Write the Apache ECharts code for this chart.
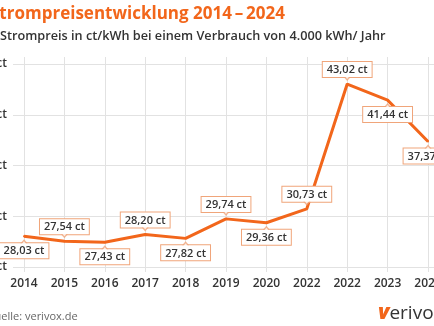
<!DOCTYPE html>
<html>
<head>
<meta charset="utf-8">
<script src="https://cdn.jsdelivr.net/npm/echarts@6/dist/echarts.min.js"></script>
<style>html,body{margin:0;padding:0;background:#fff;}#c{width:434px;height:326px;}</style>
</head>
<body>
<div id="c"></div>
<script>
const titleText = 'Strompreisentwicklung 2014\u2009\u2013\u20092024';
const subtitleText = 'Strompreis in ct/kWh bei einem Verbrauch von 4.000 kWh/ Jahr';
const sourceText = 'Quelle: verivox.de';
const yearLabels = ['2014','2015','2016','2017','2018','2019','2020','2022','2022','2023','2024'];
const prices = [28.03, 27.54, 27.43, 28.20, 27.82, 29.74, 29.36, 30.73, 43.02, 41.44, 37.37];
const yTicks = [25, 30, 35, 40, 45];
const labelSide = ['bottom','top','bottom','top','bottom','top','bottom','top','top','bottom','bottom'];

const ORANGE = '#f2661b';
const BORDER = '#f0a57a';
const FONT = 'Open Sans';
const fmt = v => v.toFixed(2).replace('.', ',') + ' ct';

const lineData = prices.map((v, i) => ({
  value: v,
  label: { position: labelSide[i] }
}));
const triOuter = prices.map((v, i) => ({
  value: v,
  symbolRotate: labelSide[i] === 'top' ? 180 : 0,
  symbolOffset: [0, labelSide[i] === 'top' ? -5 : 5]
}));
const triInner = prices.map((v, i) => ({
  value: v,
  symbolRotate: labelSide[i] === 'top' ? 180 : 0,
  symbolOffset: [0, labelSide[i] === 'top' ? -6.5 : 6.5]
}));

const chart = echarts.init(document.getElementById('c'), null, {renderer: 'canvas'});
chart.setOption({
  backgroundColor: '#fff',
  animation: false,
  textStyle: { fontFamily: FONT },
  grid: [
    { left: 13, right: 0, top: 64, bottom: 59, containLabel: false, outerBoundsMode: 'none' },
    { left: 24, right: 6, top: 57, bottom: 59, containLabel: false, outerBoundsMode: 'none' }
  ],
  xAxis: [
    { gridIndex: 0, type: 'category', data: yearLabels, show: false },
    {
      gridIndex: 1, type: 'category', data: yearLabels, boundaryGap: false,
      axisLine: { show: false },
      axisTick: { show: true, alignWithLabel: true, length: 5, lineStyle: { color: '#e2e2e2' } },
      axisLabel: { margin: 11, fontSize: 12, fontWeight: 600, color: '#333', fontFamily: FONT },
      splitLine: { show: true, lineStyle: { color: '#e2e2e2', width: 1 } }
    }
  ],
  yAxis: [
    {
      gridIndex: 0, type: 'value', min: yTicks[0], max: yTicks[yTicks.length - 1], interval: 5,
      axisLine: { show: false }, axisTick: { show: false },
      axisLabel: { margin: 6, fontSize: 12, fontWeight: 600, color: '#333', fontFamily: FONT,
        formatter: v => v + ' ct' },
      splitLine: { lineStyle: { color: '#e2e2e2', width: 1 } }
    },
    {
      gridIndex: 1, type: 'value', min: 25, max: 45 + 7 / 51 * 5, show: false,
      splitLine: { show: false }
    }
  ],
  series: [
    {
      type: 'line', xAxisIndex: 1, yAxisIndex: 1, data: lineData, z: 3,
      symbol: 'circle', symbolSize: 2, showSymbol: true,
      itemStyle: { color: ORANGE },
      lineStyle: { color: ORANGE, width: 3 },
      label: {
        show: true, distance: 6, formatter: p => fmt(p.value),
        fontFamily: FONT, fontSize: 11, fontWeight: 600, color: '#333',
        backgroundColor: '#fff', borderColor: BORDER, borderWidth: 1,
        padding: [2, 4, 1, 4], lineHeight: 12
      }
    },
    {
      type: 'scatter', xAxisIndex: 1, yAxisIndex: 1, data: triOuter, z: 10,
      symbol: 'triangle', symbolSize: [7, 4],
      itemStyle: { color: BORDER }, silent: true
    },
    {
      type: 'scatter', xAxisIndex: 1, yAxisIndex: 1, data: triInner, z: 11,
      symbol: 'triangle', symbolSize: [5, 3],
      itemStyle: { color: '#fff' }, silent: true
    }
  ],
  graphic: [
    { type: 'text', left: -10, top: 6, style: { text: titleText, fontFamily: FONT, fontSize: 17, fontWeight: 700, fill: ORANGE } },
    { type: 'text', left: 0, top: 30, style: { text: subtitleText, fontFamily: FONT, fontSize: 12.7, fontWeight: 600, fill: '#333' } },
    { type: 'text', left: -14, top: 311, style: { text: sourceText, fontFamily: FONT, fontSize: 11, fill: '#666' } },
    { type: 'text', left: 378, top: 303, style: {
      text: '{v|v}{r|erivox}',
      rich: {
        v: { fontFamily: FONT, fontSize: 21, fontWeight: 800, fill: ORANGE, fontStyle: 'italic' },
        r: { fontFamily: FONT, fontSize: 19, fontWeight: 400, fill: '#333' }
      }
    } }
  ]
});
</script>
</body>
</html>
